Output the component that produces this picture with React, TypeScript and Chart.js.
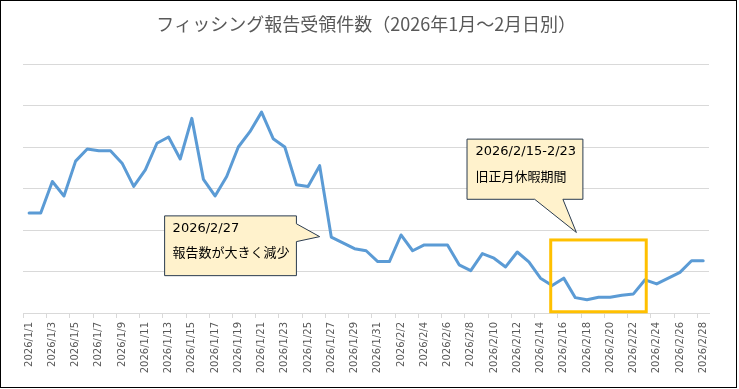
import React, { useEffect, useRef } from "react";
import { Chart, registerables } from "chart.js";

Chart.register(...registerables);

const TITLE = "フィッシング報告受領件数（2026年1月～2月日別）";

const janDays: string[] = Array.from({ length: 31 }, (_, i) => `2026/1/${i + 1}`);
const febDays: string[] = Array.from({ length: 28 }, (_, i) => `2026/2/${i + 1}`);
const dateLabels: string[] = [...janDays, ...febDays];

const reportCounts: number[] = [
  241, 241, 317, 282, 366, 395, 391, 391, 361, 305,
  345, 409, 424, 371, 469, 322, 282, 329, 400, 437,
  484, 420, 400, 309, 305, 355, 183, 169, 155, 150,
  124, 124, 188, 150, 164, 164, 164, 116, 102, 143,
  132, 111, 147, 123, 84, 66, 84, 37, 32, 38,
  38, 43, 46, 80, 70, 84, 98, 126, 126,
];

const yTicks: number[] = [0, 100, 200, 300, 400, 500, 600];

// Annotation anchors in data units (category index, value)
const callout1Lines: string[] = ["2026/2/27", "報告数が大きく減少"];
const callout1Box = { x0: 11.66, x1: 23.0, yTop: 234, yBot: 90 };
const callout1Ptr = { baseY0: 215, baseY1: 172, tipX: 25.0, tipY: 184 };

const callout2Lines: string[] = ["2026/2/15-2/23", "旧正月休暇期間"];
const callout2Box = { x0: 37.68, x1: 47.65, yTop: 419, yBot: 274 };
const callout2Ptr = { baseX0: 43.5, baseX1: 45.93, tipX: 47.09, tipY: 194 };

const holidayRect = { x0: 44.88, x1: 53.1, yTop: 176, yBot: 3 };

const CALLOUT_FONT = '13px "DejaVu Sans", "Noto Sans CJK JP", sans-serif';

const annotationPlugin = {
  id: "annotations",
  afterDatasetsDraw(chart: any) {
    const { ctx } = chart;
    const xs = chart.scales.x;
    const ys = chart.scales.y;
    const px = (v: number) => xs.getPixelForValue(v);
    const py = (v: number) => ys.getPixelForValue(v);

    ctx.save();
    // holiday rectangle
    ctx.strokeStyle = "#FFC000";
    ctx.lineWidth = 3;
    ctx.strokeRect(
      px(holidayRect.x0),
      py(holidayRect.yTop),
      px(holidayRect.x1) - px(holidayRect.x0),
      py(holidayRect.yBot) - py(holidayRect.yTop)
    );

    const fill = "#FFF2CC";
    const stroke = "#2A3B4F";

    // callout 1 (pointer on right side)
    {
      const l = px(callout1Box.x0), r = px(callout1Box.x1);
      const t = py(callout1Box.yTop), b = py(callout1Box.yBot);
      ctx.beginPath();
      ctx.moveTo(l, t);
      ctx.lineTo(r, t);
      ctx.lineTo(r, py(callout1Ptr.baseY0));
      ctx.lineTo(px(callout1Ptr.tipX), py(callout1Ptr.tipY));
      ctx.lineTo(r, py(callout1Ptr.baseY1));
      ctx.lineTo(r, b);
      ctx.lineTo(l, b);
      ctx.closePath();
      ctx.fillStyle = fill;
      ctx.fill();
      ctx.strokeStyle = stroke;
      ctx.lineWidth = 1;
      ctx.stroke();
      ctx.fillStyle = "#000";
      ctx.font = CALLOUT_FONT;
      ctx.textAlign = "left";
      ctx.textBaseline = "middle";
      ctx.fillText(callout1Lines[0], l + 8, t + 12.5);
      ctx.fillText(callout1Lines[1], l + 8, t + 37.5);
    }

    // callout 2 (pointer on bottom)
    {
      const l = px(callout2Box.x0), r = px(callout2Box.x1);
      const t = py(callout2Box.yTop), b = py(callout2Box.yBot);
      ctx.beginPath();
      ctx.moveTo(l, t);
      ctx.lineTo(r, t);
      ctx.lineTo(r, b);
      ctx.lineTo(px(callout2Ptr.baseX1), b);
      ctx.lineTo(px(callout2Ptr.tipX), py(callout2Ptr.tipY));
      ctx.lineTo(px(callout2Ptr.baseX0), b);
      ctx.lineTo(l, b);
      ctx.closePath();
      ctx.fillStyle = fill;
      ctx.fill();
      ctx.strokeStyle = stroke;
      ctx.lineWidth = 1;
      ctx.stroke();
      ctx.fillStyle = "#000";
      ctx.font = CALLOUT_FONT;
      ctx.textAlign = "left";
      ctx.textBaseline = "middle";
      ctx.fillText(callout2Lines[0], l + 8.5, t + 12.5);
      ctx.fillText(callout2Lines[1], l + 8.5, t + 39);
    }
    ctx.restore();
  },
};

export default function App() {
  const canvasRef = useRef<HTMLCanvasElement | null>(null);

  useEffect(() => {
    if (!canvasRef.current) return;
    const chart = new Chart(canvasRef.current, {
      type: "line",
      data: {
        labels: dateLabels,
        datasets: [
          {
            data: reportCounts,
            borderColor: "#5B9BD5",
            backgroundColor: "#5B9BD5",
            borderWidth: 3,
            pointRadius: 0,
            tension: 0,
            borderJoinStyle: "round",
            borderCapStyle: "round",
          },
        ],
      },
      options: {
        animation: false,
        responsive: false,
        maintainAspectRatio: false,
        layout: { padding: { left: 22.3, right: 27, top: 0, bottom: 0 } },
        plugins: {
          legend: { display: false },
          tooltip: { enabled: false },
          title: {
            display: true,
            text: TITLE,
            color: "#595959",
            font: { family: '"Noto Sans CJK JP", sans-serif', size: 18, weight: "normal", lineHeight: 1.2 },
            padding: { top: 12, bottom: 29.4 },
          },
        },
        scales: {
          x: {
            type: "category",
            offset: true,
            afterFit: (axis: any) => {
              axis.height = 74;
            },
            grid: {
              offset: true,
              drawOnChartArea: false,
              drawTicks: true,
              tickLength: 5,
              color: (c: any) => (c.index % 2 === 0 ? "#D9D9D9" : "rgba(0,0,0,0)"),
            },
            border: { display: true, color: "#D9D9D9", width: 1 },
            ticks: {
              autoSkip: false,
              maxRotation: 90,
              minRotation: 90,
              padding: 4,
              color: "#595959",
              font: { family: '"DejaVu Sans", sans-serif', size: 10 },
              callback: (_v: any, i: number) => (i % 2 === 0 ? dateLabels[i] : ""),
            },
          },
          y: {
            min: yTicks[0],
            max: yTicks[yTicks.length - 1],
            afterFit: (axis: any) => {
              axis.width = 0;
            },
            afterBuildTicks: (axis: any) => {
              axis.ticks = yTicks.map((v) => ({ value: v }));
            },
            ticks: { display: false },
            border: { display: false },
            grid: { color: "#D9D9D9", lineWidth: 1, drawTicks: false },
          },
        },
      },
      plugins: [annotationPlugin],
    });
    return () => chart.destroy();
  }, []);

  return (
    <div
      style={{
        position: "absolute",
        left: 0,
        top: 0,
        width: 737,
        height: 388,
        boxSizing: "border-box",
        border: "1px solid #000",
        background: "#fff",
      }}
    >
      <canvas ref={canvasRef} width={735} height={386} style={{ display: "block", width: 735, height: 386 }} />
    </div>
  );
}
